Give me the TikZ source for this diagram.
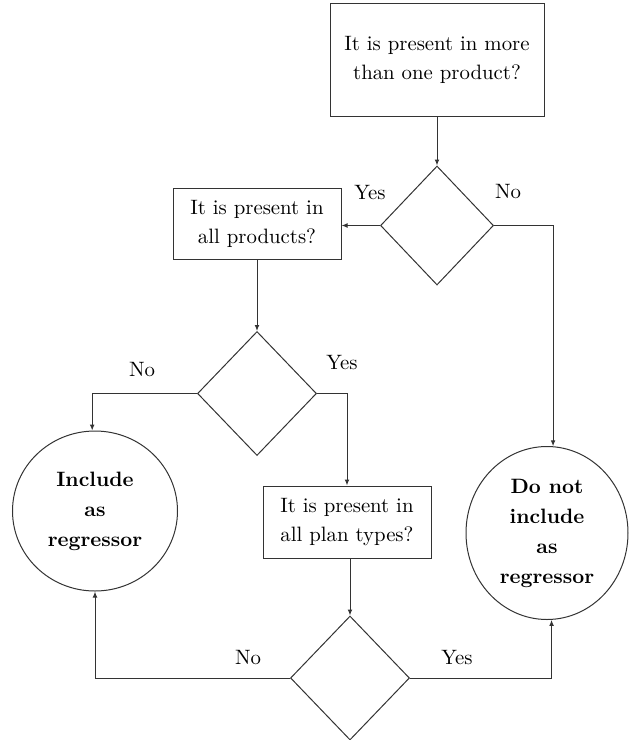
\documentclass[tikz,border=0pt]{standalone}
\usepackage{amsmath}
\usepackage{amssymb}
\usetikzlibrary{shapes.geometric,arrows.meta}

\begin{document}
\begin{tikzpicture}[x=0.5pt,y=-0.5pt,line width=0.5pt,
  every node/.style={font=\fontsize{10.4}{14.5}\selectfont},
  question/.style={draw=black!80,rectangle,align=center,inner sep=0pt},
  choice/.style={draw=black!80,diamond,inner sep=0pt,minimum width=59.5pt,minimum height=62pt},
  outcome/.style={draw=black!80,ellipse,align=center,inner sep=0pt,font=\fontsize{10.4}{15}\selectfont\bfseries},
  arr/.style={draw=black!80,-{Latex[length=3pt,width=2.4pt]}}]
\useasboundingbox (0,0) rectangle (628,740);

% questions and decisions
\node[question,minimum width=107pt,minimum height=56.5pt] (more) at (437,59.5) {It is present in more\\than one product?};
\node[choice,minimum width=56.5pt,minimum height=59.5pt] (d1) at (437,225.5) {};
\node[question,minimum width=84pt,minimum height=35.5pt] (allprod) at (257,223.5) {It is present in\\all products?};
\node[choice] (d2) at (257,393.5) {};
\node[question,minimum width=84pt,minimum height=36pt] (allplan) at (347,522) {It is present in\\all plan types?};
\node[choice] (d3) at (350,678) {};

% outcomes
\node[outcome,minimum width=82.5pt,minimum height=80pt] (incl) at (95,511) {Include\\as\\regressor};
\node[outcome,minimum width=81pt,minimum height=86.5pt] (excl) at (547,533) {Do not\\include\\as\\regressor};

% answers
\node (yes1) at (370,193) {Yes};
\node (no1) at (508,192) {No};
\node (no2) at (142,370) {No};
\node (yes2) at (342,363) {Yes};
\node (no3) at (248,658) {No};
\node (yes3) at (457,658) {Yes};

\draw[arr] (more) -- (d1);
\draw[arr] (d1.west) -- (d1.west -| allprod.east);
\draw[arr] (d1.east) -| (excl.86);
\draw[arr] (allprod) -- (d2);
\draw[arr] (d2.west) -| (incl.92);
\draw[arr] (d2.east) -| (allplan.north);
\draw[arr] (allplan.south -| d3.north) -- (d3.north);
\draw[arr] (d3.west) -| (incl.south);
\draw[arr] (d3.east) -| (excl.-87);
\end{tikzpicture}
\end{document}
